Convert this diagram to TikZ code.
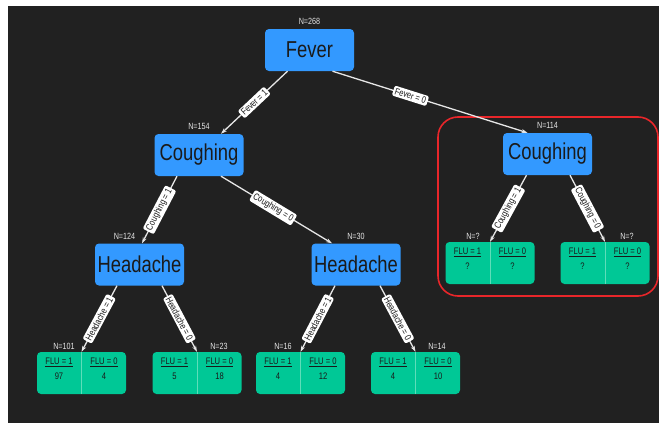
\documentclass[tikz,border=0pt]{standalone}
\usepackage{fontspec}
\setmainfont[FakeStretch=0.8]{Liberation Sans}
\usetikzlibrary{arrows.meta,calc,positioning}
\definecolor{Canvas}{HTML}{212121}
\definecolor{Ink}{HTML}{1A1A1A}
\definecolor{Blue}{HTML}{3399FF}
\definecolor{Green}{HTML}{00C896}
\definecolor{GreenLine}{HTML}{5EDDB9}
\definecolor{Soft}{HTML}{E6E6E6}
\definecolor{Red}{HTML}{E8262A}
\tikzset{feature/.style={rounded corners=4pt,fill=Blue,minimum width=89pt,minimum height=42pt,inner sep=0pt,text=Ink,font=\fontsize{23}{25}\selectfont},leafbox/.style={rounded corners=4pt,fill=Green,minimum width=89pt,minimum height=42pt,inner sep=0pt},divider/.style={draw=GreenLine,line width=.6pt},flu/.style={text=Ink,inner sep=0pt,font=\fontsize{9.5}{10}\selectfont},count/.style={text=Soft,inner sep=0pt,font=\fontsize{9}{10}\selectfont},tag/.style={fill=white,rounded corners=2pt,text=Ink,inner sep=1.8pt,font=\fontsize{9.5}{10}\selectfont,sloped},flow/.style={-{Stealth[length=6pt,width=4pt]},line width=1.3pt,draw=Soft},frame/.style={draw=Red,line width=1.6pt,rounded corners=20pt}}

\begin{document}
\begin{tikzpicture}[x=1pt,y=-1pt]
      \fill[white](0,0)rectangle(659,423);\fill[Canvas](8,6)rectangle(659,423);
      % split nodes
      \node[feature](fever) at (309.5,50){Fever};
      \node[feature](coughL) at (199,155){Coughing};
      \node[feature](coughR) at (547.5,154){Coughing};
      \node[feature](headL) at (139.5,264.5){Headache};
      \node[feature](headM) at (356,264.5){Headache};
      \node[count,above=4pt of fever](nFever){N=268};
      \node[count,above=4pt of coughL](nCoughL){N=154};
      \node[count,above=4pt of coughR](nCoughR){N=114};
      \node[count,above=4pt of headL,xshift=-15pt](nHeadL){N=124};
      \node[count,above=4pt of headM](nHeadM){N=30};
      % leaves
      \foreach \nm/\x/\y/\n/\dx/\a/\b in {l1/81.5/373/101/-17.5/97/4,l2/197/373/23/22/5/18,l3/300.5/373/16/-17.5/4/12,l4/415.5/373/14/21.5/4/10,r1/490/263/?/-17/?/?,r2/605/263/?/22/?/?}{
        \node[leafbox](\nm) at (\x,\y){};
        \draw[divider](\nm.north)--(\nm.south);
        \node[flu](\nm-a) at ($(\nm.center)+(-22.5,-11)$){\underline{FLU = 1}};
        \node[flu](\nm-b) at ($(\nm.center)+(22.5,-11)$){\underline{FLU = 0}};
        \node[flu](\nm-va) at ($(\nm.center)+(-22.5,3)$){\a};
        \node[flu](\nm-vb) at ($(\nm.center)+(22.5,3)$){\b};
        \node[count,above=2pt of \nm,xshift=\dx pt](\nm-n){N=\n};
      }
      \draw[frame](438,117)rectangle(658,296);
      % branches
      \draw[flow]([xshift=-22pt]fever.south)--node[tag](t1){Fever = 1}([xshift=22pt]coughL.north);
      \draw[flow]([xshift=23pt]fever.south)--node[tag,pos=.4](t2){Fever = 0}([xshift=-20pt]coughR.north);
      \draw[flow]([xshift=-22pt]coughL.south)--node[tag](t3){Coughing = 1}([xshift=2.5pt]headL.north);
      \draw[flow]([xshift=22pt]coughL.south)--node[tag,pos=.47](t4){Coughing = 0}([xshift=-24pt]headM.north);
      \draw[flow]([xshift=-22.5pt]headL.south)--node[tag](t5){Headache = 1}(l1.north);
      \draw[flow]([xshift=22.5pt]headL.south)--node[tag](t6){Headache = 0}(l2.north);
      \draw[flow]([xshift=-21pt]headM.south)--node[tag](t7){Headache = 1}(l3.north);
      \draw[flow]([xshift=24pt]headM.south)--node[tag](t8){Headache = 0}(l4.north);
      \draw[flow]([xshift=-21pt]coughR.south)--node[tag](t9){Coughing = 1}(r1.north);
      \draw[flow]([xshift=22.5pt]coughR.south)--node[tag](t10){Coughing = 0}(r2.north);
    \end{tikzpicture}
\end{document}
